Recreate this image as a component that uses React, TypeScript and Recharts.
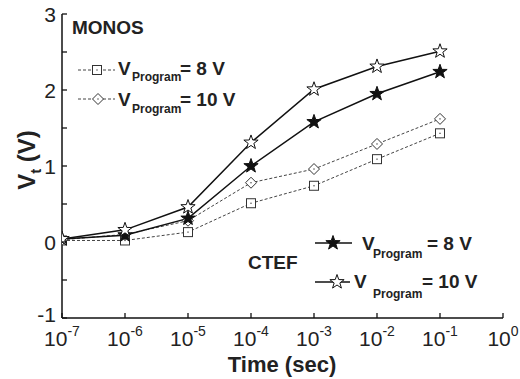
import React from "react";
import { LineChart, Line, XAxis, YAxis } from "recharts";

const times = [1e-7, 1e-6, 1e-5, 1e-4, 1e-3, 1e-2, 1e-1];
const monos8 = [0.02, 0.02, 0.13, 0.51, 0.74, 1.09, 1.43];
const monos10 = [0.03, 0.1, 0.28, 0.78, 0.96, 1.29, 1.62];
const ctef8 = [0.04, 0.09, 0.31, 1.0, 1.58, 1.95, 2.24];
const ctef10 = [0.04, 0.16, 0.46, 1.31, 2.01, 2.31, 2.51];

const xTicks = [1e-7, 1e-6, 1e-5, 1e-4, 1e-3, 1e-2, 1e-1, 1];
const yTicks = [-1, -0.5, 0, 0.5, 1, 1.5, 2, 2.5, 3];

const data = times.map((t, i) => ({
  t,
  monos8: monos8[i],
  monos10: monos10[i],
  ctef8: ctef8[i],
  ctef10: ctef10[i],
}));

const FONT = "'Liberation Sans', Arial, sans-serif";
const TICK = 5;

function starPath(cx: number, cy: number, R: number, r: number) {
  let d = "";
  for (let k = 0; k < 10; k++) {
    const rad = k % 2 === 0 ? R : r;
    const a = -Math.PI / 2 + (k * Math.PI) / 5;
    d += (k === 0 ? "M" : "L") + (cx + rad * Math.cos(a)).toFixed(2) + "," + (cy + rad * Math.sin(a)).toFixed(2);
  }
  return d + "Z";
}

const Square = ({ cx, cy }: any) => (
  <g>
    <rect x={cx - 4.5} y={cy - 4.5} width={9} height={9} fill="#fff" stroke="#333" strokeWidth={1} />
    <rect x={cx - 0.6} y={cy - 0.6} width={1.2} height={1.2} fill="#333" />
  </g>
);
const Diamond = ({ cx, cy }: any) => (
  <g>
    <path d={`M${cx},${cy - 5.5}L${cx + 5.5},${cy}L${cx},${cy + 5.5}L${cx - 5.5},${cy}Z`} fill="#fff" stroke="#333" strokeWidth={1} />
    <rect x={cx - 0.6} y={cy - 0.6} width={1.2} height={1.2} fill="#333" />
  </g>
);
const Star = ({ cx, cy, filled }: any) => (
  <path d={starPath(cx, cy, 7.5, 3)} fill={filled ? "#111" : "#fff"} stroke="#111" strokeWidth={1} />
);

const XTick = ({ x, y, payload }: any) => {
  const exp = Math.round(Math.log10(payload.value));
  const axisY = y - 6;
  return (
    <g>
      <line x1={x} x2={x} y1={axisY} y2={axisY - TICK} stroke="#111" strokeWidth={1.3} />
      <text x={x} y={axisY + 28} textAnchor="middle" fontFamily={FONT} fontSize={21} fill="#222">
        <tspan>10</tspan>
        <tspan dy={-10} fontSize={14}>{exp}</tspan>
      </text>
    </g>
  );
};
const XTopTick = ({ x, y }: any) => {
  const axisY = y + 6;
  return <line x1={x} x2={x} y1={axisY} y2={axisY + TICK} stroke="#111" strokeWidth={1.3} />;
};
const YTick = ({ x, y, payload }: any) => {
  const axisX = x + 6;
  const v = payload.value;
  return (
    <g>
      <line x1={axisX} x2={axisX + TICK} y1={y} y2={y} stroke="#111" strokeWidth={1.3} />
      {Number.isInteger(v) && (
        <text x={axisX - 6} y={y + (v === -1 ? 4 : 8)} textAnchor="end" fontFamily={FONT} fontSize={21} fill="#222">
          {v}
        </text>
      )}
    </g>
  );
};
const YRightTick = ({ x, y }: any) => {
  const axisX = x - 6;
  return <line x1={axisX} x2={axisX - TICK} y1={y} y2={y} stroke="#111" strokeWidth={1.3} />;
};

const LegendRow = ({ x1, x2, y, mx, marker, dashed, vx, vy, px, py, eqx, label }: any) => (
  <g>
    <line x1={x1} x2={x2} y1={y} y2={y} stroke={dashed ? "#444" : "#111"} strokeWidth={dashed ? 1 : 1.5} strokeDasharray={dashed ? "3 2" : undefined} />
    {marker === "square" && <Square cx={mx} cy={y} />}
    {marker === "diamond" && <Diamond cx={mx} cy={y} />}
    {marker === "star" && <Star cx={mx} cy={y} filled />}
    {marker === "ostar" && <Star cx={mx} cy={y} />}
    <text x={vx} y={vy} fontFamily={FONT} fontWeight="bold" fontSize={19} fill="#222">V</text>
    <text x={px} y={py} fontFamily={FONT} fontWeight="bold" fontSize={12} fill="#222">Program</text>
    <text x={eqx} y={vy} fontFamily={FONT} fontWeight="bold" fontSize={19} fill="#222">{label}</text>
  </g>
);

export default function App() {
  return (
    <div style={{ position: "absolute", left: 0, top: 0, width: 520, height: 379, background: "#fff" }}>
      <LineChart width={520} height={379} data={data} margin={{ top: 14, right: 17, left: 0, bottom: 0 }}>
        <XAxis
          xAxisId="b"
          dataKey="t"
          type="number"
          scale="log"
          domain={[1e-7, 1]}
          ticks={xTicks}
          allowDataOverflow
          height={61}
          tickSize={0}
          tickMargin={6}
          tickLine={false}
          tick={<XTick />}
          axisLine={{ stroke: "#111", strokeWidth: 1.5 }}
          interval={0}
        />
        <XAxis
          xAxisId="t"
          orientation="top"
          dataKey="t"
          type="number"
          scale="log"
          domain={[1e-7, 1]}
          ticks={xTicks}
          allowDataOverflow
          height={0}
          tickSize={0}
          tickMargin={6}
          tickLine={false}
          tick={<XTopTick />}
          axisLine={{ stroke: "#111", strokeWidth: 1.5 }}
          interval={0}
        />
        <YAxis
          yAxisId="l"
          type="number"
          domain={[-1, 3]}
          ticks={yTicks}
          width={62}
          tickSize={0}
          tickMargin={6}
          tickLine={false}
          tick={<YTick />}
          axisLine={{ stroke: "#111", strokeWidth: 1.5 }}
          interval={0}
        />
        <YAxis
          yAxisId="r"
          orientation="right"
          type="number"
          domain={[-1, 3]}
          ticks={yTicks}
          width={0}
          tickSize={0}
          tickMargin={6}
          tickLine={false}
          tick={<YRightTick />}
          axisLine={{ stroke: "#111", strokeWidth: 1.5 }}
          interval={0}
        />
        <Line xAxisId="b" yAxisId="l" dataKey="monos8" stroke="#444" strokeWidth={1} strokeDasharray="3 2" isAnimationActive={false}
          dot={(p: any) => <Square key={p.index} cx={p.cx} cy={p.cy} />} />
        <Line xAxisId="b" yAxisId="l" dataKey="monos10" stroke="#444" strokeWidth={1} strokeDasharray="3 2" isAnimationActive={false}
          dot={(p: any) => <Diamond key={p.index} cx={p.cx} cy={p.cy} />} />
        <Line xAxisId="b" yAxisId="l" dataKey="ctef8" stroke="#111" strokeWidth={1.5} isAnimationActive={false}
          dot={(p: any) => <Star key={p.index} cx={p.cx} cy={p.cy} filled />} />
        <Line xAxisId="b" yAxisId="l" dataKey="ctef10" stroke="#111" strokeWidth={1.5} isAnimationActive={false}
          dot={(p: any) => <Star key={p.index} cx={p.cx} cy={p.cy} />} />
      </LineChart>
      <svg width={520} height={379} style={{ position: "absolute", left: 0, top: 0, pointerEvents: "none" }}>
        <text x={72} y={34} fontFamily={FONT} fontWeight="bold" fontSize={19} fill="#222">MONOS</text>
        <LegendRow x1={78} x2={115} y={70} mx={97} marker="square" dashed vx={118} vy={75} px={132} py={81} eqx={180} label="= 8 V" />
        <LegendRow x1={78} x2={115} y={99} mx={98} marker="diamond" dashed vx={118} vy={106} px={132} py={113} eqx={180} label="= 10 V" />
        <text x={248} y={269} fontFamily={FONT} fontWeight="bold" fontSize={19} fill="#222">CTEF</text>
        <LegendRow x1={315} x2={352} y={243} mx={333} marker="star" vx={362} vy={250} px={373} py={258} eqx={427} label="= 8 V" />
        <LegendRow x1={315} x2={350} y={282} mx={337} marker="ostar" vx={354} vy={288} px={373} py={298} eqx={422} label="= 10 V" />
        <text transform="translate(35,160) rotate(-90)" textAnchor="middle" fontFamily={FONT} fontWeight="bold" fontSize={24} fill="#222">
          <tspan>V</tspan>
          <tspan dy={6} fontSize={15}>t</tspan>
          <tspan dy={-6}> (V)</tspan>
        </text>
        <text x={282} y={372} textAnchor="middle" fontFamily={FONT} fontWeight="bold" fontSize={22} fill="#222">Time (sec)</text>
      </svg>
    </div>
  );
}
